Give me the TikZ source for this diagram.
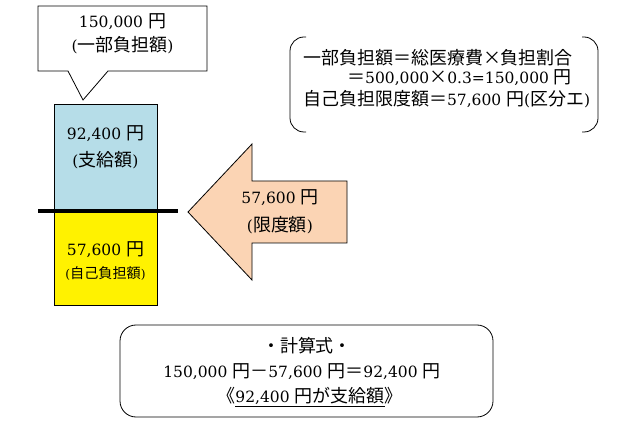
\documentclass[tikz,border=0pt]{standalone}
\usepackage{fontspec}
\setmainfont{DejaVu Serif}
\newfontfamily\jp[Scale=1.16]{Noto Sans CJK JP}
\definecolor{barblue}{HTML}{B6DDE8}
\definecolor{peach}{HTML}{FBD4B4}
\begin{document}
\begin{tikzpicture}[x=1pt,y=-1pt,
  txt/.style={inner sep=0pt, font=\fontsize{15.5}{20}\selectfont, align=center},
  small/.style={inner sep=0pt, font=\fontsize{12.2}{15}\selectfont},
  ln/.style={line width=0.8pt}]
\useasboundingbox (0,0) rectangle (643,430);
\fill[white] (0,0) rectangle (643,430);

% callout
\draw[ln, fill=white] (38,6) -- (207,6) -- (207,71) -- (108,71) -- (83,100) -- (68,71) -- (38,71) -- cycle;
\node[txt] (c1) at (122.5,22) {150,000 {\jp 円}};
\node[txt] (c2) at (122.5,45) {({\jp 一部負担額})};

% bars
\draw[ln, fill=barblue] (54,104) rectangle (157,211);
\draw[ln, fill=yellow] (54,211) rectangle (157,305);
\coordinate (la) at (38,211);
\coordinate (lb) at (178,211);
\draw[line width=4pt] (la) -- (lb);
\node[txt] (b1) at (105.5,134) {92,400 {\jp 円}};
\node[txt] (b2) at (105.5,160) {({\jp 支給額})};
\node[txt] (y1) at (105.5,250) {57,600 {\jp 円}};
\node[small] (y2) at (105.5,273) {({\jp 自己負担額})};

% arrow
\draw[ln, fill=peach] (188,212) -- (252,144) -- (252,181) -- (347,181) -- (347,243) -- (252,243) -- (252,280) -- cycle;
\node[txt] (a1) at (280,198) {57,600 {\jp 円}};
\node[txt] (a2) at (280,225) {({\jp 限度額})};

% bracket note
\draw[ln, rounded corners=14pt] (306,37) -- (290,37) -- (290,132) -- (306,132);
\draw[ln, rounded corners=14pt] (582,37) -- (598,37) -- (598,132) -- (582,132);
\node[txt, anchor=west] (n1) at (303,58) {{\jp 一部負担額＝総医療費×負担割合}};
\node[txt, anchor=west] (n2) at (347,78) {{\jp ＝}500,000{\jp ×}0.3=150,000 {\jp 円}};
\node[txt, anchor=west] (n3) at (303,99) {{\jp 自己負担限度額＝}57,600 {\jp 円}({\jp 区分エ})};

% calculation box
\draw[ln, rounded corners=16pt] (120,325) rectangle (493,417);
\node[txt] (k1) at (307,346) {{\jp ・計算式・}};
\node[txt] (k2) at (302,372) {150,000 {\jp 円－}57,600 {\jp 円＝}92,400 {\jp 円}};
\node[txt] (k3) at (310,397) {{\jp 《}\underline{92,400 {\jp 円が支給額}}{\jp 》}};
\end{tikzpicture}
\end{document}
